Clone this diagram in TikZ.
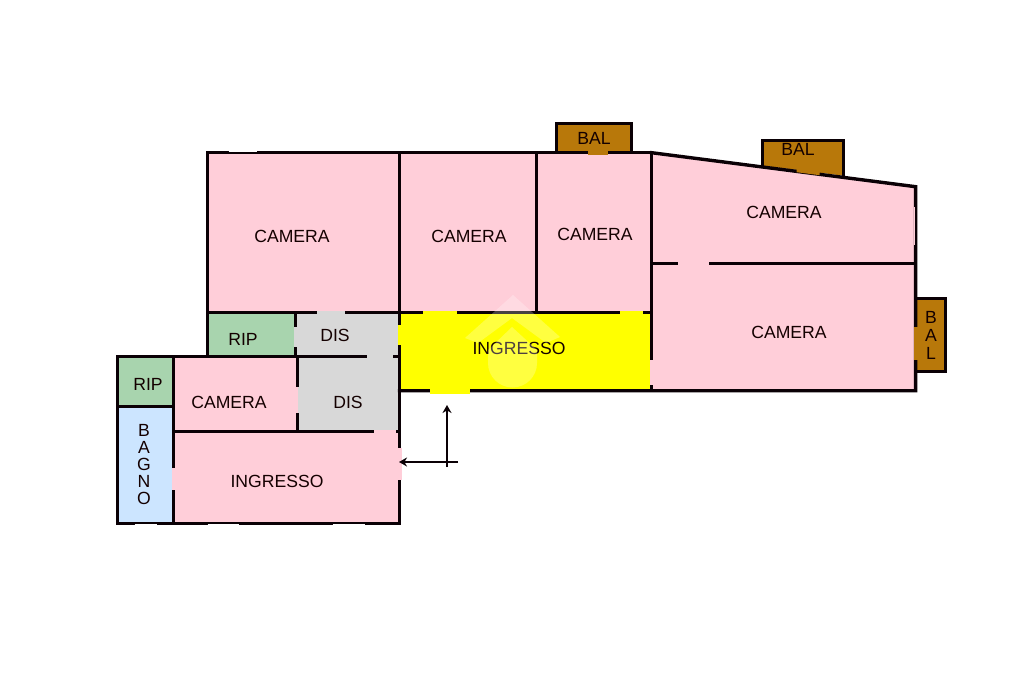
\documentclass[tikz,border=0pt]{standalone}
\usepackage{fontspec}
\setmainfont{Liberation Sans}
\usetikzlibrary{arrows.meta}
\definecolor{roomPink}{HTML}{FFCED9}
\definecolor{roomGreen}{HTML}{A8D4AE}
\definecolor{roomBlue}{HTML}{CCE5FF}
\definecolor{roomGrey}{HTML}{D8D8D8}
\definecolor{roomBrown}{HTML}{B8780A}
\definecolor{roomYellow}{HTML}{FFFF00}
\definecolor{wallBlack}{HTML}{0A0005}
\tikzset{
  wall/.style={draw=wallBlack,line width=3.4pt,line cap=rect,line join=miter},
  thinwall/.style={draw=wallBlack,line width=2.9pt,line cap=butt},
  label/.style={text=black!92!red,inner sep=0pt,font=\fontsize{17.6}{17.6}\selectfont},
  tall/.style={text=black!92!red,inner sep=0pt,align=center,font=\fontsize{17.6}{17}\selectfont},
  entry/.style={draw=wallBlack,line width=1.5pt,-{Stealth[length=8pt,width=9pt]}},
  glaze/.style={draw=white,line width=.6pt}
}
\begin{document}
\begin{tikzpicture}[x=1pt,y=-1pt]
\useasboundingbox (0,0) rectangle (1024,682);
\fill[white] (0,0) rectangle (1024,682);
\begin{scope}[shift={(-.4,-.3)}]
% room fills
\fill[roomPink] (208,153) rectangle (652,313);
\fill[roomPink] (652,153) -- (916,187) -- (916,391) -- (652,391) -- cycle;
\fill[roomGreen] (208,314) rectangle (296,357);
\fill[roomGrey] (296,314) rectangle (400,357);
\fill[roomYellow] (400,313) rectangle (652,391);
\fill[roomGreen] (118,357) rectangle (174,407);
\fill[roomBlue] (118,407) rectangle (174,524);
\fill[roomPink] (174,357) rectangle (298,432);
\fill[roomGrey] (298,357) rectangle (400,432);
\fill[roomPink] (174,432) rectangle (400,524);
\fill[roomBrown] (557,124) rectangle (632,153);
\fill[roomBrown] (763,141) -- (844,141) -- (844,176) -- (763,166) -- cycle;
\fill[roomBrown] (916,299) rectangle (946,372);
% outer and inner walls
\draw[wall] (208,153) rectangle (652,313);
\draw[wall] (652,153) -- (916,187) -- (916,391) -- (400,391);
\draw[wall] (652,153) -- (652,391);
\draw[wall] (400,153) -- (400,524);
\draw[wall] (537,153) -- (537,313);
\draw[wall] (208,313) -- (208,357);
\draw[wall] (296,313) -- (296,357);
\draw[wall] (118,357) -- (400,357);
\draw[wall] (118,357) rectangle (174,524);
\draw[wall] (118,407) -- (174,407);
\draw[wall] (174,524) -- (400,524);
\draw[thinwall] (174,432) -- (400,432);
\draw[thinwall] (298,357) -- (298,432);
\draw[thinwall] (652,264) -- (916,264);
\draw[wall] (557,153) |- (632,124) -- (632,153);
\draw[wall] (763,166) |- (844,141) -- (844,176);
\draw[wall] (918,299) -| (946,372) -- (918,372);
% door openings
\fill[roomGrey] (317,311) rectangle (345,316);
\fill[roomGrey] (294,327) rectangle (298,347);
\fill[roomGrey] (367,355) rectangle (393,359);
\fill[roomGrey] (296,387) rectangle (300,413);
\fill[roomPink] (296,387) rectangle (298,413);
\fill[roomPink] (374,430) rectangle (396,434);
\fill[roomPink] (398,448) rectangle (402,480);
\fill[roomYellow] (398,325) rectangle (402,345);
\fill[roomYellow] (423,311) rectangle (457,315);
\fill[roomYellow] (620,311) rectangle (643,315);
\fill[roomYellow] (430,389) rectangle (470,394);
\fill[roomPink] (650,360) rectangle (654,385);
\fill[roomPink] (678,262) rectangle (709,266);
\fill[roomPink] (172.5,468) rectangle (176,490);
\fill[roomPink] (175,370) rectangle (176,398);
\fill[roomBrown] (588,151) rectangle (608,155);
\fill[roomBrown] (797,168.5) -- (820,171.5) -- (820,175.5) -- (797,172.5) -- cycle;
\fill[roomBrown] (914,327) rectangle (918,360);
\fill[roomPink] (914.4,207) rectangle (915,245);
% window highlights
\draw[glaze] (229,152) -- (257,152);
\draw[glaze] (135,525) -- (157,525);
\draw[glaze] (208,525) -- (239,525);
\draw[glaze] (333,525) -- (365,525);
\end{scope}
% labels
\node[label] (cameraA) at (292,236) {CAMERA};
\node[label] (cameraB) at (469,236) {CAMERA};
\node[label] (cameraC) at (595,234) {CAMERA};
\node[label] (cameraD) at (784,212) {CAMERA};
\node[label] (cameraE) at (789,332) {CAMERA};
\node[label] (cameraF) at (229,402) {CAMERA};
\node[label] (ripA) at (243,339) {RIP};
\node[label] (ripB) at (148,384) {RIP};
\node[label] (disA) at (335,335) {DIS};
\node[label] (disB) at (348,402) {DIS};
\node[label] (ingressoA) at (519,348) {INGRESSO};
\node[label] (ingressoB) at (277,481) {INGRESSO};
\node[label] (balA) at (594,138) {BAL};
\node[label] (balB) at (798,149) {BAL};
\node[tall] (balC) at (931,335) {B\\[1pt]A\\[1pt]L};
\node[tall] (bagno) at (144,465) {B\\A\\G\\N\\O};
% faint watermark
\begin{scope}[opacity=.25]
\fill[white] (513,295) -- (560,337) -- (546,343) -- (512,318) -- (478,343) -- (465,338) -- cycle;
\fill[white] (512,327) -- (537,350) -- (537,363) arc (0:180:24.5) -- (488,350) -- cycle;
\end{scope}
% entrance arrows
\coordinate (upFoot) at (447,467);
\coordinate (upTip) at (447,405);
\coordinate (inFoot) at (458,462);
\coordinate (inTip) at (399,462);
\draw[entry] (upFoot) -- (upTip);
\draw[entry] (inFoot) -- (inTip);
\end{tikzpicture}
\end{document}
